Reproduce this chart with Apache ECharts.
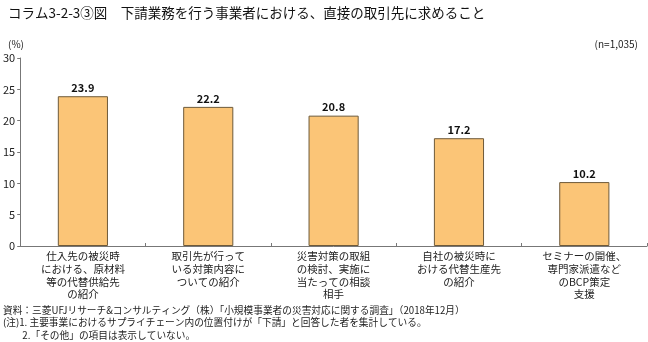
<!DOCTYPE html>
<html>
<head>
<meta charset="utf-8">
<script src="https://cdn.jsdelivr.net/npm/echarts@6/dist/echarts.min.js"></script>
<style>
html,body{margin:0;padding:0;background:#fff;}
#chart{width:648px;height:342px;}
</style>
</head>
<body>
<div id="chart"></div>
<script>
// Categories (support requested from direct business partners)
const categories = [
  '仕入先の被災時\nにおける、原材料\n等の代替供給先\nの紹介',
  '取引先が行って\nいる対策内容に\nついての紹介',
  '災害対策の取組\nの検討、実施に\n当たっての相談\n相手',
  '自社の被災時に\nおける代替生産先\nの紹介',
  'セミナーの開催、\n専門家派遣など\nのBCP策定\n支援'
];
// Share of respondents (%)
const values = [23.9, 22.2, 20.8, 17.2, 10.2];
const yTicks = { min: 0, max: 30, interval: 5 };

const titleText = 'コラム3-2-3③図　下請業務を行う事業者における、直接の取引先に求めること';
const unitText = '(%)';
const sampleText = '(n=1,035)';
const notes = [
  '資料：三菱UFJリサーチ&コンサルティング（株）「小規模事業者の災害対応に関する調査」（2018年12月）',
  '(注)1. 主要事業におけるサプライチェーン内の位置付けが「下請」と回答した者を集計している。',
  '　　2.「その他」の項目は表示していない。'
];

const font = '"Noto Sans CJK JP", "Noto Sans", sans-serif';
const chart = echarts.init(document.getElementById('chart'));

chart.setOption({
  animation: false,
  textStyle: { fontFamily: font },
  grid: { left: 19, right: 1, top: 58, bottom: 96, containLabel: false },
  title: [
    { text: titleText, left: 3, top: 1, textStyle: { fontFamily: font, fontSize: 13.5, fontWeight: 'normal', color: '#111' } },
    { text: unitText, left: 3, top: 34, textStyle: { fontFamily: font, fontSize: 10, fontWeight: 'normal', color: '#222' } },
    { text: sampleText, right: 5, top: 34, textStyle: { fontFamily: font, fontSize: 10, fontWeight: 'normal', color: '#222' } }
  ],
  graphic: notes.map((t, i) => ({
    type: 'text',
    left: 3,
    top: 305 + i * 12.5,
    style: { text: t, font: '9.7px ' + font, fill: '#222' }
  })),
  xAxis: {
    type: 'category',
    data: categories,
    axisLine: { lineStyle: { color: '#777', width: 1 } },
    axisTick: { show: true, inside: true, length: 3, lineStyle: { color: '#777' } },
    axisLabel: { interval: 0, color: '#222', fontSize: 10.5, lineHeight: 12.7, margin: 4, fontFamily: font }
  },
  yAxis: {
    type: 'value',
    min: yTicks.min, max: yTicks.max, interval: yTicks.interval,
    axisLine: { show: true, lineStyle: { color: '#777', width: 1 } },
    axisTick: { show: true, length: 3, lineStyle: { color: '#777' } },
    axisLabel: { color: '#222', fontSize: 11, margin: 5, fontFamily: font },
    splitLine: { show: false }
  },
  series: [{
    type: 'bar',
    data: values,
    barWidth: '40%',
    itemStyle: { color: '#FBC577', borderColor: '#6e5a3a', borderWidth: 1 },
    label: { show: true, position: 'top', distance: 3, color: '#111', fontSize: 11, fontWeight: 'bold', fontFamily: font, formatter: p => p.value.toFixed(1) }
  }]
});
</script>
</body>
</html>
